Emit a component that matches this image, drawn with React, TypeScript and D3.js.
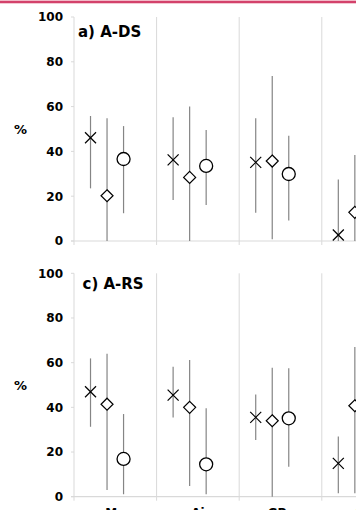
import React from "react";
import * as d3 from "d3";

// Categories along the x axis (one band each)
const categories = ["Mo", "Ai", "GPs", "Ca"];
const seriesKeys = ["cross", "diamond", "circle"];
const yTicks = [0, 20, 40, 60, 80, 100];

// Panel a) A-DS: point estimates with lower/upper bounds (%)
const adsCross = [46.1, 36.2, 35.1, 2.7];
const adsCrossLo = [23.5, 18.3, 12.6, 0];
const adsCrossHi = [55.8, 55.2, 54.8, 27.5];
const adsDiamond = [20.2, 28.4, 35.7, 12.8];
const adsDiamondLo = [0, 0, 0.8, 0];
const adsDiamondHi = [54.8, 60.0, 73.7, 38.4];
const adsCircle = [36.6, 33.5, 29.9, null];
const adsCircleLo = [12.4, 16.1, 9.1, null];
const adsCircleHi = [51.3, 49.5, 47.0, null];

// Panel c) A-RS
const arsCross = [47.0, 45.5, 35.5, 14.9];
const arsCrossLo = [31.3, 35.5, 25.4, 1.5];
const arsCrossHi = [61.9, 58.2, 45.8, 26.9];
const arsDiamond = [41.4, 40.0, 34.0, 40.7];
const arsDiamondLo = [3.0, 4.8, 0, 1.6];
const arsDiamondHi = [64.0, 61.2, 57.7, 67.0];
const arsCircle = [16.9, 14.5, 35.1, null];
const arsCircleLo = [1.1, 1.1, 13.4, null];
const arsCircleHi = [37.0, 39.6, 57.5, null];

type Series = { key: string; mid: (number | null)[]; lo: (number | null)[]; hi: (number | null)[] };

const panels = [
  {
    title: "a) A-DS",
    top: 17,
    bottom: 241,
    titleX: 78,
    titleY: 36.5,
    series: [
      { key: "cross", mid: adsCross, lo: adsCrossLo, hi: adsCrossHi },
      { key: "diamond", mid: adsDiamond, lo: adsDiamondLo, hi: adsDiamondHi },
      { key: "circle", mid: adsCircle, lo: adsCircleLo, hi: adsCircleHi },
    ] as Series[],
  },
  {
    title: "c) A-RS",
    top: 273.3,
    bottom: 496.7,
    titleX: 82.5,
    titleY: 289,
    series: [
      { key: "cross", mid: arsCross, lo: arsCrossLo, hi: arsCrossHi },
      { key: "diamond", mid: arsDiamond, lo: arsDiamondLo, hi: arsDiamondHi },
      { key: "circle", mid: arsCircle, lo: arsCircleLo, hi: arsCircleHi },
    ] as Series[],
  },
];

const W = 356;
const H = 510;
const FONT = "'DejaVu Sans', sans-serif";
const GRID = "#d9d9d9";
const BAR = "#858585";

const x = d3.scaleBand<string>().domain(categories).range([74, 74 + 82.6 * 4]).paddingInner(0).paddingOuter(0);
const bw = x.bandwidth();
const xs = d3.scalePoint<string>().domain(seriesKeys).range([0.2 * bw, 0.6 * bw]);

function Marker({ kind, cx, cy }: { kind: string; cx: number; cy: number }) {
  if (kind === "cross") {
    const s = 5.5;
    return (
      <g stroke="#000" strokeWidth={1.2} fill="none">
        <line x1={cx - s} y1={cy - s} x2={cx + s} y2={cy + s} />
        <line x1={cx - s} y1={cy + s} x2={cx + s} y2={cy - s} />
      </g>
    );
  }
  if (kind === "diamond") {
    const s = 6;
    const p = d3.path();
    p.moveTo(cx, cy - s);
    p.lineTo(cx + s, cy);
    p.lineTo(cx, cy + s);
    p.lineTo(cx - s, cy);
    p.closePath();
    return <path d={p.toString()} fill="#fff" stroke="#000" strokeWidth={1.2} />;
  }
  return <circle cx={cx} cy={cy} r={6.5} fill="#fff" stroke="#000" strokeWidth={1.3} />;
}

function Panel({ p }: { p: (typeof panels)[number] }) {
  const y = d3.scaleLinear().domain([0, 100]).range([p.bottom, p.top]);
  const bounds = [...categories.map((c) => x(c) as number), (x(categories[categories.length - 1]) as number) + bw];
  return (
    <g>
      {/* category separators with ticks below the axis */}
      {bounds.map((bx, i) => (
        <line key={i} x1={bx} x2={bx} y1={y(100)} y2={y(0) + 4} stroke={GRID} strokeWidth={1} />
      ))}
      {/* y-axis ticks */}
      {yTicks.map((t) => (
        <line key={"t" + t} x1={71} x2={74} y1={y(t)} y2={y(t)} stroke={GRID} strokeWidth={1} />
      ))}
      {/* x axis */}
      <line x1={71} x2={W} y1={y(0)} y2={y(0)} stroke={GRID} strokeWidth={1.2} />
      {/* y tick labels */}
      {yTicks.map((t) => (
        <text key={"l" + t} x={63} y={y(t)} dy="0.36em" textAnchor="end" fontFamily={FONT} fontWeight="bold" fontSize={12} fill="#000">
          {t}
        </text>
      ))}
      <text x={14} y={y(50)} dy="0.36em" fontFamily={FONT} fontWeight="bold" fontSize={13} fill="#000">
        %
      </text>
      <text x={p.titleX} y={p.titleY} fontFamily={FONT} fontWeight="bold" fontSize={15} fill="#000">
        {p.title}
      </text>
      {/* error bars first, markers on top */}
      {p.series.map((s) =>
        categories.map((c, i) => {
          const m = s.mid[i];
          const lo = s.lo[i];
          const hi = s.hi[i];
          if (m == null || lo == null || hi == null) return null;
          const cx = (x(c) as number) + (xs(s.key) as number);
          return <line key={s.key + c} x1={cx} x2={cx} y1={y(lo)} y2={y(hi)} stroke={BAR} strokeWidth={1.2} />;
        })
      )}
      {p.series.map((s) =>
        categories.map((c, i) => {
          const m = s.mid[i];
          if (m == null) return null;
          const cx = (x(c) as number) + (xs(s.key) as number);
          return <Marker key={"m" + s.key + c} kind={s.key} cx={cx} cy={y(m)} />;
        })
      )}
    </g>
  );
}

export default function App() {
  const yBottom = d3.scaleLinear().domain([0, 100]).range([panels[1].bottom, panels[1].top]);
  return (
    <svg width={W} height={H} style={{ position: "absolute", left: 0, top: 0, background: "#fff" }}>
      <rect x={0} y={0} width={W} height={H} fill="#fff" />
      {/* header rule */}
      <rect x={0} y={0} width={W} height={1} fill="#f1b9c7" />
      <rect x={0} y={1} width={W} height={2} fill="#d3426b" />
      <rect x={0} y={3} width={W} height={1} fill="#f3c9d4" />
      {panels.map((p) => (
        <Panel key={p.title} p={p} />
      ))}
      {/* category labels under the lower panel */}
      {categories.map((c) => (
        <text key={c} x={(x(c) as number) + bw / 2} y={yBottom(0) + 20} textAnchor="middle" fontFamily={FONT} fontWeight="bold" fontSize={12} fill="#000">
          {c}
        </text>
      ))}
    </svg>
  );
}
